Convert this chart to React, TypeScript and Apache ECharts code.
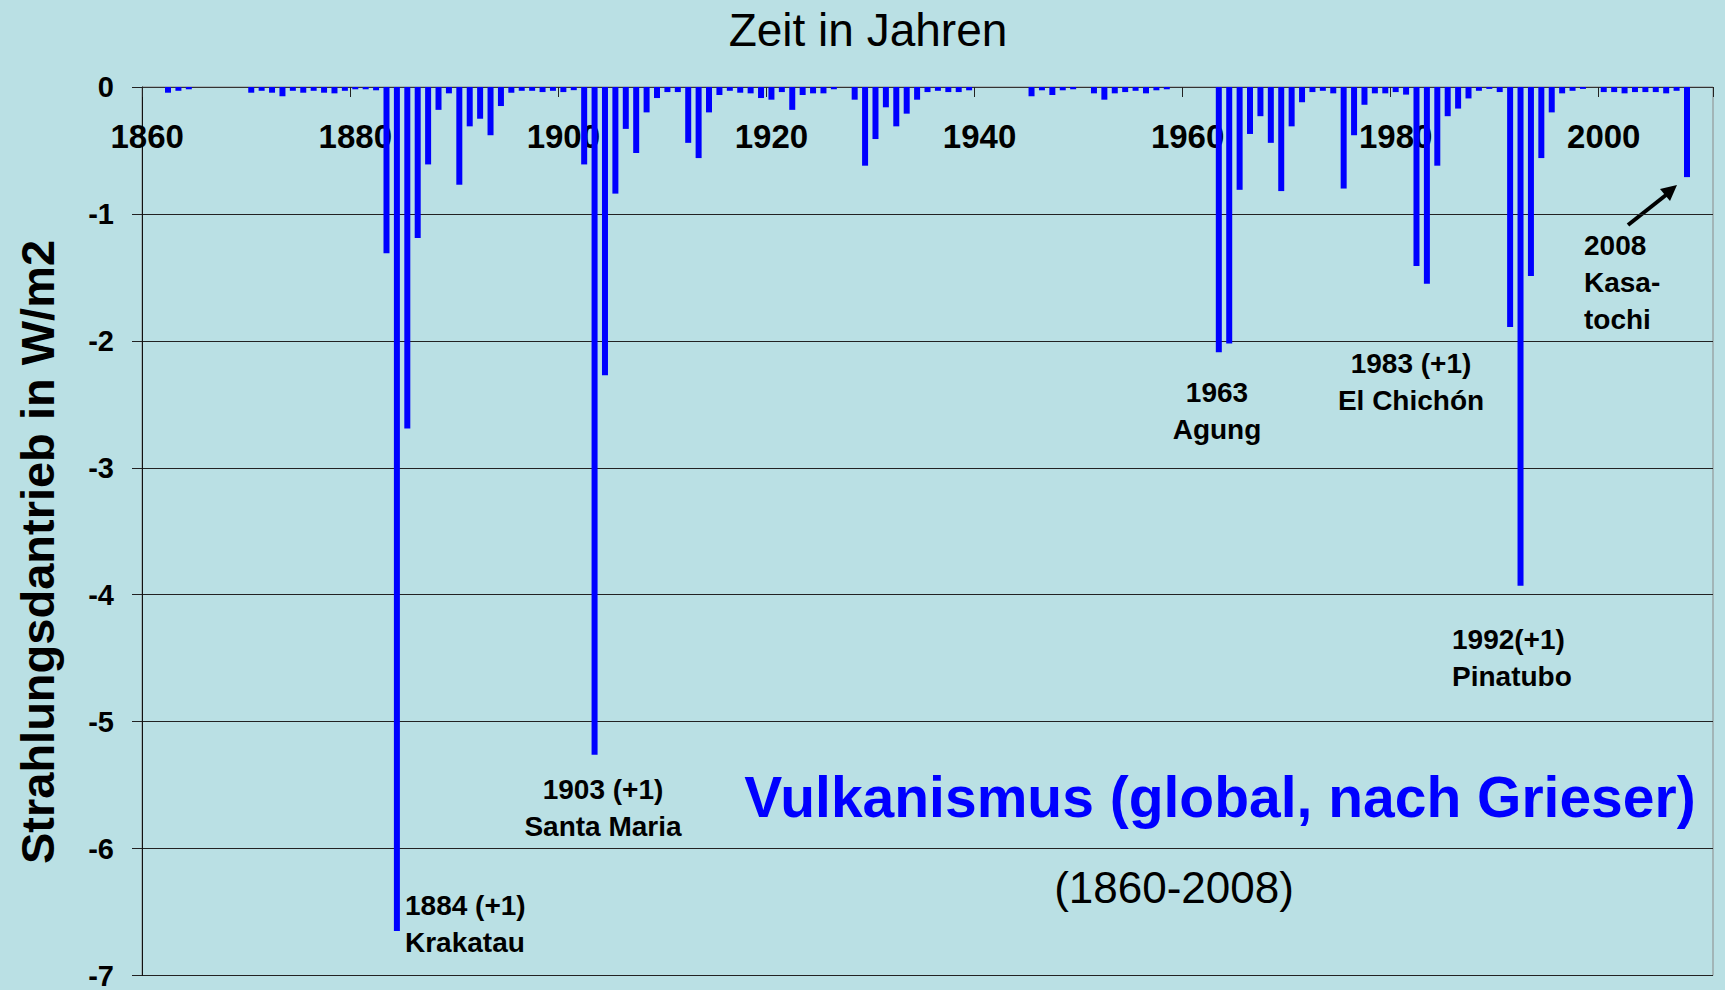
import React, { useEffect, useRef } from "react";
import * as echarts from "echarts";

// ---------- data ----------
const startYear = 1860;
const endYear = 2010;
const years: string[] = [];
for (let y = startYear; y <= endYear; y++) years.push(String(y));

// Radiative forcing (W/m2), one value per year 1860..2010
const forcing1860s = [0, 0, -0.045, -0.03, -0.018, 0, 0, 0, 0, 0];
const forcing1870s = [-0.045, -0.03, -0.045, -0.073, -0.03, -0.045, -0.03, -0.045, -0.05, -0.03];
const forcing1880s = [-0.018, -0.018, -0.026, -1.31, -6.65, -2.69, -1.19, -0.61, -0.18, -0.05];
const forcing1890s = [-0.77, -0.31, -0.25, -0.38, -0.15, -0.045, -0.03, -0.03, -0.04, -0.03];
const forcing1900s = [-0.04, -0.025, -0.61, -5.26, -2.27, -0.84, -0.33, -0.52, -0.2, -0.087];
const forcing1910s = [-0.04, -0.04, -0.44, -0.56, -0.2, -0.063, -0.03, -0.045, -0.05, -0.087];
const forcing1920s = [-0.1, -0.04, -0.18, -0.063, -0.05, -0.05, -0.018, 0, -0.1, -0.62];
const forcing1930s = [-0.41, -0.16, -0.31, -0.21, -0.1, -0.04, -0.03, -0.04, -0.04, -0.026];
const forcing1940s = [0, 0, 0, 0, 0, -0.073, -0.026, -0.063, -0.026, -0.018];
const forcing1950s = [0, -0.05, -0.1, -0.05, -0.04, -0.03, -0.05, -0.026, -0.018, 0];
const forcing1960s = [0, 0, 0, -2.09, -2.02, -0.81, -0.37, -0.23, -0.44, -0.82];
const forcing1970s = [-0.31, -0.12, -0.04, -0.03, -0.05, -0.8, -0.38, -0.14, -0.05, -0.05];
const forcing1980s = [-0.04, -0.06, -1.41, -1.55, -0.62, -0.23, -0.17, -0.09, -0.03, -0.015];
const forcing1990s = [-0.04, -1.89, -3.93, -1.49, -0.56, -0.2, -0.05, -0.03, -0.015, 0];
const forcing2000s = [-0.04, -0.04, -0.05, -0.04, -0.04, -0.04, -0.05, -0.03, -0.71, null, null];

const forcing = [
  ...forcing1860s, ...forcing1870s, ...forcing1880s, ...forcing1890s, ...forcing1900s,
  ...forcing1910s, ...forcing1920s, ...forcing1930s, ...forcing1940s, ...forcing1950s,
  ...forcing1960s, ...forcing1970s, ...forcing1980s, ...forcing1990s, ...forcing2000s,
];

const yMin = -7;
const yMax = 0;
const yStep = 1;

const chartTitle = "Zeit in Jahren";
const yAxisTitle = "Strahlungsdantrieb in W/m2";
const headline = "Vulkanismus (global, nach Grieser)";
const subline = "(1860-2008)";

const labelKrakatau = ["1884 (+1)", "Krakatau"];
const labelSantaMaria = ["1903 (+1)", "Santa Maria"];
const labelAgung = ["1963", "Agung"];
const labelElChichon = ["1983 (+1)", "El Chichón"];
const labelPinatubo = ["1992(+1)", "Pinatubo"];
const labelKasatochi = ["2008", "Kasa-", "tochi"];

// ---------- styling ----------
const FONT = "'Liberation Sans', Arial, Helvetica, sans-serif";
const BG = "#bae0e4";

function annotation(lines: string[], x: number, y: number, align: "left" | "center") {
  return {
    type: "text",
    x,
    y,
    style: {
      text: lines.join("\n"),
      font: `bold 28px ${FONT}`,
      fill: "#000",
      textAlign: align,
      textVerticalAlign: "top",
      lineHeight: 37,
    },
  };
}

export default function App() {
  const ref = useRef<HTMLDivElement>(null);

  useEffect(() => {
    if (!ref.current) return;
    const chart = echarts.init(ref.current, null, { renderer: "svg" });

    const option: any = {
      animation: false,
      backgroundColor: BG,
      grid: {
        left: 142,
        right: 12,
        top: 87,
        bottom: 14,
        show: true,
        borderColor: "#8a8a8a",
        borderWidth: 1,
        backgroundColor: "transparent",
      },
      xAxis: {
        type: "category",
        data: years,
        position: "top",
        boundaryGap: true,
        axisLine: { show: true, lineStyle: { color: "#333", width: 1 } },
        axisTick: {
          show: true,
          inside: true,
          length: 10,
          interval: 19,
          alignWithLabel: false,
          lineStyle: { color: "#222", width: 1 },
        },
        axisLabel: {
          show: true,
          inside: true,
          interval: 19,
          margin: 33,
          fontFamily: FONT,
          fontSize: 33,
          fontWeight: "bold",
          color: "#000",
        },
        splitLine: { show: false },
      },
      yAxis: {
        type: "value",
        min: yMin,
        max: yMax,
        interval: yStep,
        axisLine: { show: true, lineStyle: { color: "#111", width: 1 } },
        axisTick: { show: true, length: 10, lineStyle: { color: "#222" } },
        axisLabel: {
          margin: 28,
          fontFamily: FONT,
          fontSize: 29,
          fontWeight: "bold",
          color: "#000",
        },
        splitLine: { show: true, lineStyle: { color: "#222", width: 1 } },
      },
      series: [
        {
          type: "bar",
          data: forcing,
          barWidth: 6,
          itemStyle: { color: "#0000ff" },
        },
      ],
      graphic: [
        {
          type: "text",
          x: 868,
          y: 30,
          style: {
            text: chartTitle,
            font: `46px ${FONT}`,
            fill: "#000",
            textAlign: "center",
            textVerticalAlign: "middle",
          },
        },
        {
          type: "text",
          x: 37,
          y: 552,
          rotation: Math.PI / 2,
          style: {
            text: yAxisTitle,
            font: `bold 47px ${FONT}`,
            fill: "#000",
            textAlign: "center",
            textVerticalAlign: "middle",
          },
        },
        {
          type: "text",
          x: 1220,
          y: 797,
          style: {
            text: headline,
            font: `bold 57px ${FONT}`,
            fill: "#0000ff",
            textAlign: "center",
            textVerticalAlign: "middle",
          },
        },
        {
          type: "text",
          x: 1174,
          y: 887,
          style: {
            text: subline,
            font: `44px ${FONT}`,
            fill: "#000",
            textAlign: "center",
            textVerticalAlign: "middle",
          },
        },
        annotation(labelKrakatau, 405, 887, "left"),
        annotation(labelSantaMaria, 603, 771, "center"),
        annotation(labelAgung, 1217, 374, "center"),
        annotation(labelElChichon, 1411, 345, "center"),
        annotation(labelPinatubo, 1452, 621, "left"),
        annotation(labelKasatochi, 1584, 227, "left"),
        {
          type: "line",
          shape: { x1: 1628, y1: 225, x2: 1666, y2: 195 },
          style: { stroke: "#000", lineWidth: 4 },
        },
        {
          type: "polygon",
          shape: { points: [[1677, 185], [1670, 201], [1660, 189]] },
          style: { fill: "#000" },
        },
      ],
    };

    chart.setOption(option);
    return () => chart.dispose();
  }, []);

  return (
    <div
      ref={ref}
      style={{ position: "fixed", left: 0, top: 0, width: 1725, height: 990 }}
    />
  );
}
